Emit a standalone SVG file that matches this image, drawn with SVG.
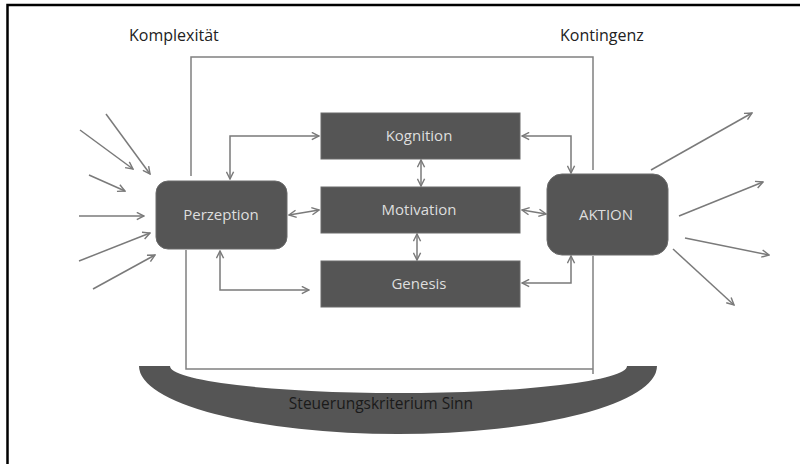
<svg xmlns="http://www.w3.org/2000/svg" width="800" height="464" viewBox="0 0 800 464">
<style>
.frame{stroke:#808080;stroke-width:1.5;fill:none}
.node{fill:#555555;stroke:#6a6a6a;stroke-width:1}
.nt{font-family:"Open Sans","Liberation Sans",sans-serif;font-size:15px;fill:#dedede;text-anchor:middle}
.lbl{font-family:"Open Sans","Liberation Sans",sans-serif;font-size:16px;fill:#222}
.c{stroke:#7a7a7a;stroke-width:1.5;fill:none;marker-end:url(#ah)}
.d{marker-start:url(#ah)}
</style>
<defs>
<marker id="ah" viewBox="0 0 10 10" refX="9" refY="5" markerWidth="9" markerHeight="9" markerUnits="userSpaceOnUse" orient="auto-start-reverse">
<path d="M1,1 L9,5 L1,9" fill="none" stroke="#7a7a7a" stroke-width="1.6"/>
</marker>
</defs>
<rect width="800" height="464" fill="#fff"/>
<path d="M7.5,464 V5 H800" fill="none" stroke="#000" stroke-width="2.5"/>
<text class="lbl" x="129" y="41">Komplexität</text>
<text class="lbl" x="560" y="41">Kontingenz</text>
<g id="frame">
<path class="frame" d="M191,176 V57 H593 V170"/>
<path class="frame" d="M186,250 V369 H593"/>
<path class="frame" d="M593,256 V374"/>
</g>
<g id="sinn">
<path d="M139,366 L170,366 A228.5,27 0 0 0 627,366 L657,366 A259,68 0 0 1 139,366 Z" fill="#555555"/>
<text x="381" y="409" font-family="Open Sans, Liberation Sans, sans-serif" font-size="15.5" fill="#1a1a1a" text-anchor="middle">Steuerungskriterium Sinn</text>
</g>
<g id="connectors">
<path class="c" d="M106,114 L150,174"/>
<path class="c" d="M80,130 L133,169"/>
<path class="c" d="M89,175 L125,191"/>
<path class="c" d="M79,216 L144,216"/>
<path class="c" d="M79,261 L150,233"/>
<path class="c" d="M93,289 L155,255"/>
<path class="c" d="M651,170 L752,113"/>
<path class="c" d="M679,216 L763,182"/>
<path class="c" d="M685,238 L769,255"/>
<path class="c" d="M673,249 L734,305"/>
<path class="c d" d="M230,179 V136 H319"/>
<path class="c d" d="M289,215 L319,210"/>
<path class="c d" d="M220,251 V290 H309"/>
<path class="c d" d="M421,160 V186"/>
<path class="c d" d="M417,234 V260"/>
<path class="c d" d="M522,136 H571 V173"/>
<path class="c d" d="M522,210 L546,214"/>
<path class="c d" d="M522,283 H571 V256"/>
</g>
<g id="perzeption"><rect class="node" x="156" y="181" width="131" height="68" rx="12"/><text class="nt" x="221" y="220">Perzeption</text></g>
<g id="kognition"><rect class="node" x="321" y="113" width="199" height="46"/><text class="nt" x="419" y="141">Kognition</text></g>
<g id="motivation"><rect class="node" x="321" y="187" width="199" height="46"/><text class="nt" x="419" y="215">Motivation</text></g>
<g id="genesis"><rect class="node" x="321" y="261" width="199" height="46"/><text class="nt" x="419" y="289">Genesis</text></g>
<g id="aktion"><rect class="node" x="547" y="174" width="121" height="81" rx="15"/><text class="nt" x="606" y="220">AKTION</text></g>
</svg>
